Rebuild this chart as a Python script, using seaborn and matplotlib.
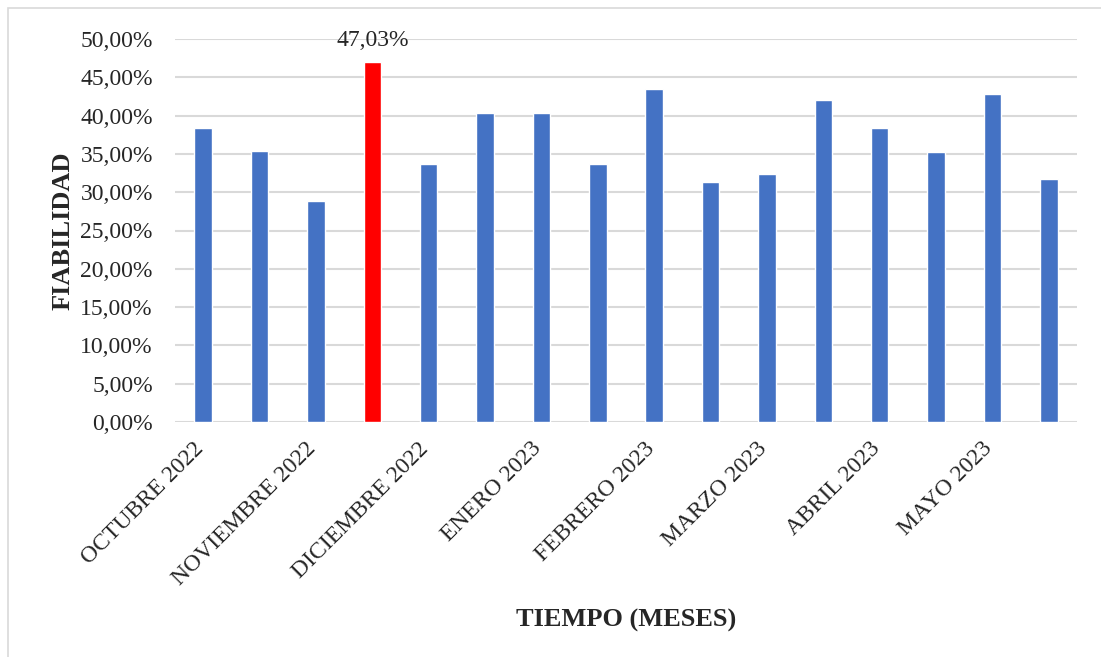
import numpy as np
import matplotlib
matplotlib.use("Agg")
import matplotlib.pyplot as plt
import matplotlib.transforms as mtransforms
from matplotlib.patches import Rectangle
from matplotlib.ticker import FuncFormatter
import seaborn as sns

# Datos del grafico
periodo = list(range(1, 17))
fiabilidad = [0.3834, 0.3534, 0.2881, 0.4703, 0.3368, 0.4030, 0.4038, 0.3364,
              0.4343, 0.3129, 0.3238, 0.4200, 0.3842, 0.3529, 0.4278, 0.3172]
meses = ["OCTUBRE 2022", "NOVIEMBRE 2022", "DICIEMBRE 2022", "ENERO 2023",
         "FEBRERO 2023", "MARZO 2023", "ABRIL 2023", "MAYO 2023"]
colores = ["#FF0000" if v == max(fiabilidad) else "#4472C4" for v in fiabilidad]

sns.set_style("white")
plt.rcParams["font.family"] = ["Liberation Serif", "DejaVu Serif"]

fig = plt.figure(figsize=(11.01, 6.57), dpi=100)
ax = fig.add_axes([175 / 1101, 1 - 422 / 657, 902 / 1101, 383 / 657])

sns.barplot(x=periodo, y=fiabilidad, hue=periodo, palette=colores,
            legend=False, width=0.31, saturation=1, ax=ax, zorder=3)

# Etiqueta del valor maximo
imax = int(np.argmax(fiabilidad))
ax.text(imax, fiabilidad[imax] + 0.014, f"{fiabilidad[imax]*100:.2f}%".replace(".", ","),
        ha="center", va="bottom", fontsize=17)

ax.set_ylim(0, 0.5)
ax.set_xlim(-0.5, len(periodo) - 0.5)
ax.set_yticks(np.arange(0, 0.501, 0.05))
ax.yaxis.set_major_formatter(FuncFormatter(lambda v, p: f"{v*100:.2f}%".replace(".", ",")))
ax.tick_params(axis="y", labelsize=17, length=0, pad=16)
ax.grid(axis="y", color="#d9d9d9", linewidth=1.5, zorder=0)
ax.set_axisbelow(True)

ax.set_xticks(range(0, len(periodo), 2))
ax.set_xticklabels(meses, rotation=45, ha="right", va="center",
                   rotation_mode="anchor", fontsize=17)
ax.tick_params(axis="x", length=0, pad=17)
shift = mtransforms.ScaledTranslation(-3 / 100, 0, fig.dpi_scale_trans)
for lab in ax.get_xticklabels():
    lab.set_transform(lab.get_transform() + shift)

for s in ["top", "right", "left", "bottom"]:
    ax.spines[s].set_visible(False)

ax.set_ylabel("FIABILIDAD", fontsize=19, fontweight="bold", labelpad=4)
ax.set_xlabel("")
fig.text(626 / 1101, 1 - 620 / 657, "TIEMPO (MESES)", ha="center", va="center",
         fontsize=19, fontweight="bold")

# Borde del area del grafico
fig.patches.append(Rectangle((8 / 1101, -0.1), 1.2, 1 - 8 / 657 + 0.1,
                             transform=fig.transFigure, fill=False,
                             edgecolor="#d9d9d9", linewidth=1.2))

fig.savefig("out.png", dpi=100)
